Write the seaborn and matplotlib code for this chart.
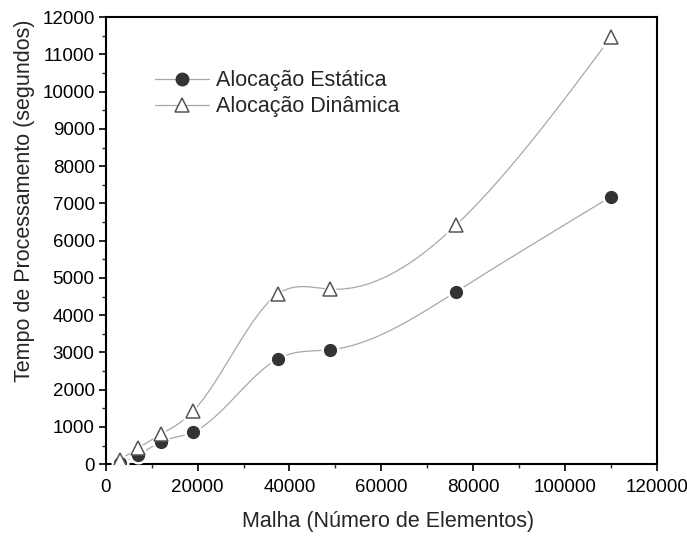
import numpy as np
import pandas as pd
import matplotlib
matplotlib.use('Agg')
import matplotlib.pyplot as plt
import seaborn as sb
from matplotlib.lines import Line2D
from matplotlib.ticker import MultipleLocator

# dados
malha = [3000, 7000, 12000, 19000, 37500, 48800, 76300, 110000]
estatica = [40, 240, 600, 860, 2830, 3070, 4630, 7180]
dinamica = [110, 430, 800, 1420, 4570, 4700, 6420, 11460]


# spline cubica natural (como a curva do Origin)
def spline(x, y, n=400):
    x = np.asarray(x, float)
    y = np.asarray(y, float)
    k = len(x)
    h = np.diff(x)
    A = np.zeros((k, k))
    b = np.zeros(k)
    A[0, 0] = 1
    A[-1, -1] = 1
    for i in range(1, k - 1):
        A[i, i - 1] = h[i - 1]
        A[i, i] = 2 * (h[i - 1] + h[i])
        A[i, i + 1] = h[i]
        b[i] = 6 * ((y[i + 1] - y[i]) / h[i] - (y[i] - y[i - 1]) / h[i - 1])
    M = np.linalg.solve(A, b)
    xs = np.linspace(x[0], x[-1], n)
    ys = np.zeros(n)
    for j, xv in enumerate(xs):
        i = min(np.searchsorted(x, xv, side='right') - 1, k - 2)
        t1 = x[i + 1] - xv
        t2 = xv - x[i]
        ys[j] = (M[i] * t1 ** 3 + M[i + 1] * t2 ** 3) / (6 * h[i]) \
            + (y[i] / h[i] - M[i] * h[i] / 6) * t1 \
            + (y[i + 1] / h[i] - M[i + 1] * h[i] / 6) * t2
    return xs, ys


sb.set_style("ticks")
plt.rcParams['font.family'] = ['Liberation Sans', 'DejaVu Sans']

fig = plt.figure(figsize=(6.87, 5.36), dpi=100)
ax = fig.add_axes([0.154, 0.134, 0.802, 0.834])

LINE = '#a8a8a8'
xs, ys = spline(malha, estatica)
sb.lineplot(x=xs, y=ys, ax=ax, color=LINE, lw=0.9, legend=False)
xs, ys = spline(malha, dinamica)
sb.lineplot(x=xs, y=ys, ax=ax, color=LINE, lw=0.9, legend=False)

df = pd.DataFrame({'Malha': malha, 'Estatica': estatica, 'Dinamica': dinamica})
# halo branco em volta dos marcadores
ax.plot(df['Malha'], df['Estatica'], 'o', ms=12, color='white', zorder=3)
ax.plot(df['Malha'], df['Dinamica'], '^', ms=14, color='white', zorder=3)
ax.plot(df['Malha'], df['Estatica'], 'o', ms=8.5, color='#333333', zorder=4)
ax.plot(df['Malha'], df['Dinamica'], '^', ms=10, mfc='white', mec='#555555', mew=1.1, zorder=5)

ax.set_xlim(0, 120000)
ax.set_ylim(0, 12000)
ax.xaxis.set_major_locator(MultipleLocator(20000))
ax.xaxis.set_minor_locator(MultipleLocator(10000))
ax.yaxis.set_major_locator(MultipleLocator(1000))
ax.yaxis.set_minor_locator(MultipleLocator(500))
ax.tick_params(which='major', direction='out', length=5, width=1.2, labelsize=13.5,
               colors='black')
ax.tick_params(axis='x', which='major', pad=6)
ax.tick_params(axis='y', which='major', pad=3)
ax.tick_params(which='minor', direction='out', length=3, width=1.0)
for s in ax.spines.values():
    s.set_visible(True)
    s.set_linewidth(1.5)
    s.set_color('black')

ax.set_xlabel('Malha (Número de Elementos)', fontsize=15.5)
ax.set_ylabel('Tempo de Processamento (segundos)', fontsize=15.5)
ax.xaxis.set_label_coords(0.512, -0.105)
ax.yaxis.set_label_coords(-0.128, 0.59)

handles = [
    Line2D([], [], color=LINE, lw=0.9, marker='o', ms=9, mfc='#333333', mec='#333333'),
    Line2D([], [], color=LINE, lw=0.9, marker='^', ms=10, mfc='white', mec='#555555', mew=1.1),
]
ax.legend(handles, ['Alocação Estática', 'Alocação Dinâmica'], loc='upper left',
          bbox_to_anchor=(0.055, 0.925), frameon=False, fontsize=15.5,
          handlelength=2.5, handletextpad=0.3, labelspacing=0.25)

fig.savefig('out.png', dpi=100)
